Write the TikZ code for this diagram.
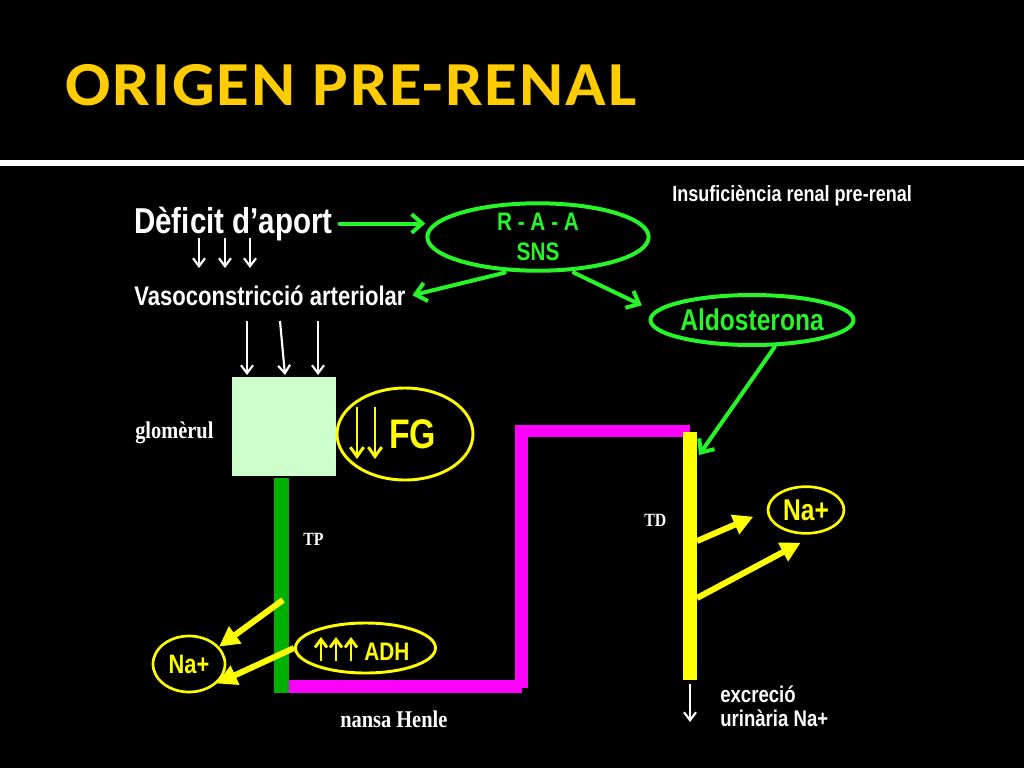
\documentclass[tikz,border=0pt]{standalone}
\usepackage{fontspec}
\setmainfont{Liberation Sans}
\newfontfamily\titlefont{Carlito}[LetterSpace=3,FakeStretch=1.07]
\newfontfamily\narrowfont{Liberation Sans}[FakeStretch=0.82]
\newfontfamily\serifnarrow{Liberation Serif}[FakeStretch=0.85]
\usetikzlibrary{arrows.meta,shapes.geometric}

\definecolor{titlegold}{RGB}{255,204,0}
\definecolor{brightgreen}{RGB}{40,245,40}
\definecolor{tubegreen}{RGB}{0,176,0}
\definecolor{tubemagenta}{RGB}{255,0,255}
\definecolor{natyellow}{RGB}{255,255,0}
\definecolor{glomfill}{RGB}{204,255,204}

\tikzset{
    txt/.style={inner sep=0pt, text=white, font=\narrowfont\bfseries},
    serif/.style={inner sep=0pt, text=white, font=\serifnarrow\bfseries},
    greenoval/.style={ellipse, draw=brightgreen, line width=3pt, inner sep=0pt, text=brightgreen},
    yellowoval/.style={ellipse, draw=natyellow, line width=2pt, inner sep=0pt, text=natyellow},
    greenarrow/.style={draw=brightgreen, line width=3pt, line cap=round, -{Straight Barb[length=8pt,width=14pt]}},
    yellowarrow/.style={draw=natyellow, line width=4.5pt, -{Triangle[length=15pt,width=15pt]}},
    whitearrow/.style={draw=white, line width=1.6pt, -{Straight Barb[length=6pt,width=9pt]}},
    thinarrow/.style={draw=natyellow, line width=2.2pt, -{Straight Barb[length=7pt,width=10pt]}},
    tinyarrow/.style={draw=natyellow, line width=2.2pt, -{Straight Barb[length=6pt,width=9pt]}}
}

\begin{document}
\begin{tikzpicture}[x=0.75pt, y=-0.75pt]
    \useasboundingbox (0,0) rectangle (1024,768);
    \fill[black] (0,0) rectangle (1024,768);

    % title
    \node[anchor=base, inner sep=0pt, text=titlegold, font=\titlefont\bfseries\fontsize{47}{52}\selectfont] (title) at (351,105) {ORIGEN PRE-RENAL};
    \fill[white] (0,160) rectangle (1024,166);

    % top texts
    \node[txt, anchor=base west, font=\narrowfont\bfseries\fontsize{27}{30}\selectfont] (deficit) at (134,233) {Dèficit d’aport};
    \node[txt, anchor=base west, font=\narrowfont\bfseries\fontsize{20.2}{24}\selectfont] (vaso) at (134,305) {Vasoconstricció arteriolar};
    \node[txt, anchor=base west, font=\narrowfont\bfseries\fontsize{16.5}{19}\selectfont] (insuf) at (672,201) {Insuficiència renal pre-renal};

    % ovals
    \node[greenoval, minimum width=166pt, minimum height=50pt, align=center, font=\narrowfont\bfseries\fontsize{19}{22.5}\selectfont] (raa) at (538,237) {R - A - A\\SNS};
    \node[greenoval, minimum width=150pt, minimum height=37.5pt, font=\narrowfont\bfseries\fontsize{22.5}{26}\selectfont] (aldo) at (752,320) {Aldosterona};

    % glomerul
    \node[fill=glomfill, minimum width=78pt, minimum height=74pt, inner sep=0pt] (glom) at (284,426.5) {};
    \node[serif, anchor=base west, font=\serifnarrow\bfseries\fontsize{18}{21}\selectfont] (glomtxt) at (135,438) {glomèrul};
    \node[yellowoval, line width=2.2pt, minimum width=102pt, minimum height=69pt] (fg) at (405,434) {};
    \node[anchor=base west, inner sep=0pt, text=natyellow, font=\narrowfont\bfseries\fontsize{31}{36}\selectfont] (fgtxt) at (389,448) {FG};
    \foreach \x in {357,375}
        \draw[thinarrow] (\x,407) -- (\x,459);

    % tubes
    \fill[tubegreen] (274,478) rectangle (289,693);
    \fill[tubemagenta] (289,680) rectangle (522,693);
    \fill[tubemagenta] (515,425) rectangle (528,688);
    \fill[tubemagenta] (515,425) rectangle (690,437);
    \fill[natyellow] (683,432) rectangle (697,680);
    \node[serif, anchor=base west, font=\serifnarrow\bfseries\fontsize{14}{17}\selectfont] (tp) at (303,545) {TP};
    \node[serif, anchor=base west, font=\serifnarrow\bfseries\fontsize{14}{17}\selectfont] (td) at (644,526) {TD};
    \node[serif, anchor=base west, font=\serifnarrow\bfseries\fontsize{18}{21}\selectfont] (henle) at (340,727) {nansa Henle};

    % sodium
    \node[yellowoval, minimum width=57pt, minimum height=35pt, font=\narrowfont\bfseries\fontsize{22.5}{26}\selectfont] (nar) at (806,510) {Na+};
    \node[yellowoval, minimum width=54pt, minimum height=42pt, font=\narrowfont\bfseries\fontsize{20}{24}\selectfont] (nal) at (189,664) {Na+};
    \node[yellowoval, line width=2.2pt, minimum width=105pt, minimum height=37.5pt] (adh) at (365.5,648) {};
    \node[anchor=base west, inner sep=0pt, text=natyellow, font=\narrowfont\bfseries\fontsize{19}{22}\selectfont] (adhtxt) at (364,660) {ADH};
    \foreach \x in {321,336,351}
        \draw[tinyarrow] (\x,661) -- (\x,637);

    % excretion
    \node[txt, anchor=base west, font=\narrowfont\bfseries\fontsize{17}{20}\selectfont] (excr) at (720,702) {excreció};
    \node[txt, anchor=base west, font=\narrowfont\bfseries\fontsize{17}{20}\selectfont] (urin) at (720,726) {urinària Na+};

    % connectors
    \coordinate (tdtip) at (699,455);
    \coordinate (td1) at (697,541);
    \coordinate (td2) at (697,598);
    \coordinate (tp1) at (283,600);
    \coordinate (tdend) at (690,684);

    \draw[greenarrow] ([xshift=5pt]deficit.east) -- (deficit.east -| raa.west);
    \draw[greenarrow] ([xshift=-25pt]raa.south) -- ([xshift=5pt]vaso.east);
    \draw[greenarrow] ([xshift=27pt]raa.south) -- ([shift={(-5pt,11pt)}]aldo.west);
    \draw[greenarrow] ([xshift=17pt]aldo.south) -- (tdtip);

    \draw[yellowarrow] (td1) -- ([shift={(-10pt,-5pt)}]nar.west);
    \draw[yellowarrow] (td2) -- ([shift={(-4pt,-6pt)}]nar.south);
    \draw[yellowarrow] (tp1) -- (nal.30);
    \draw[yellowarrow] (adh.west) -- (nal.-35);

    \foreach \x in {199,225,250}
        \draw[whitearrow] (\x,238) -- (\x,268);
    \foreach \x/\y in {247/247,280/285,318/318}
        \draw[whitearrow] (\x,321) -- (\y,375);
    \draw[whitearrow] (tdend) -- ++(0,38);
\end{tikzpicture}
\end{document}
